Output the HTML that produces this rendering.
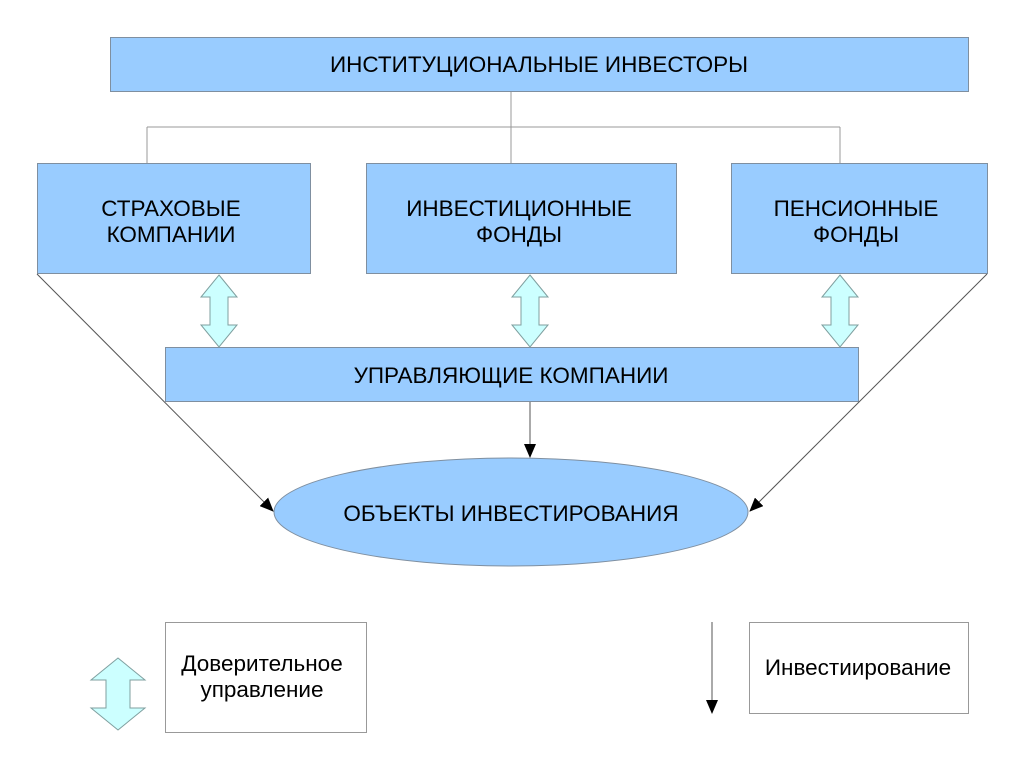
<!DOCTYPE html>
<html><head><meta charset="utf-8"><style>
html,body{margin:0;padding:0;background:#fff;}
svg{display:block;}
text{font-family:"Liberation Sans","DejaVu Sans",sans-serif;font-size:22.5px;fill:#000;}
</style></head><body>
<svg width="1024" height="768" viewBox="0 0 1024 768" xmlns="http://www.w3.org/2000/svg">
<defs>
<marker id="ah" markerWidth="14" markerHeight="12" refX="13" refY="6" orient="auto" markerUnits="userSpaceOnUse">
<path d="M0,0 L14,6 L0,12 Z" fill="#000"/>
</marker>
<g id="darr">
<path d="M0,0 L18,22 L9,22 L9,50 L18,50 L0,72 L-18,50 L-9,50 L-9,22 L-18,22 Z" fill="#ccffff" stroke="#7f9f9f" stroke-width="1"/>
</g>
</defs>
<g stroke="#999" fill="none" stroke-width="1">
<path d="M511,91 V127 M147,127 H840 M147,127 V163 M511,127 V163 M840,127 V163"/>
</g>
<g fill="#99ccff" stroke="#7f8fa0" stroke-width="1">
<rect x="110.5" y="37.5" width="858" height="54"/>
<rect x="37.5" y="163.5" width="273" height="110"/>
<rect x="366.5" y="163.5" width="310" height="110"/>
<rect x="731.5" y="163.5" width="256" height="110"/>
<rect x="165.5" y="347.5" width="693" height="54"/>
<ellipse cx="511" cy="512" rx="237" ry="54"/>
</g>
<g stroke="#555" stroke-width="1" fill="none">
<line x1="37" y1="274" x2="273" y2="511" marker-end="url(#ah)"/>
<line x1="987" y1="274" x2="750" y2="511" marker-end="url(#ah)"/>
<line x1="530" y1="402" x2="530" y2="457" marker-end="url(#ah)"/>
<line x1="712" y1="622" x2="712" y2="713" marker-end="url(#ah)"/>
</g>
<use href="#darr" x="219" y="275"/>
<use href="#darr" x="530" y="275"/>
<use href="#darr" x="840" y="275"/>
<path d="M118,658 L145,680 L130,680 L130,708 L145,708 L118,730 L91,708 L106,708 L106,680 L91,680 Z" fill="#ccffff" stroke="#7f9f9f" stroke-width="1"/>
<rect x="165.5" y="622.5" width="201" height="110" fill="#fff" stroke="#999"/>
<rect x="749.5" y="622.5" width="219" height="91" fill="#fff" stroke="#999"/>
<g text-anchor="middle">
<text x="539" y="72">ИНСТИТУЦИОНАЛЬНЫЕ ИНВЕСТОРЫ</text>
<text x="171" y="216">СТРАХОВЫЕ</text>
<text x="171" y="242">КОМПАНИИ</text>
<text x="519" y="216">ИНВЕСТИЦИОННЫЕ</text>
<text x="519" y="242">ФОНДЫ</text>
<text x="856" y="216">ПЕНСИОННЫЕ</text>
<text x="856" y="242">ФОНДЫ</text>
<text x="511" y="383">УПРАВЛЯЮЩИЕ КОМПАНИИ</text>
<text x="511" y="521">ОБЪЕКТЫ ИНВЕСТИРОВАНИЯ</text>
<text x="262" y="671">Доверительное</text>
<text x="262" y="697">управление</text>
<text x="858" y="675">Инвестиирование</text>
</g>
</svg>
</body></html>
